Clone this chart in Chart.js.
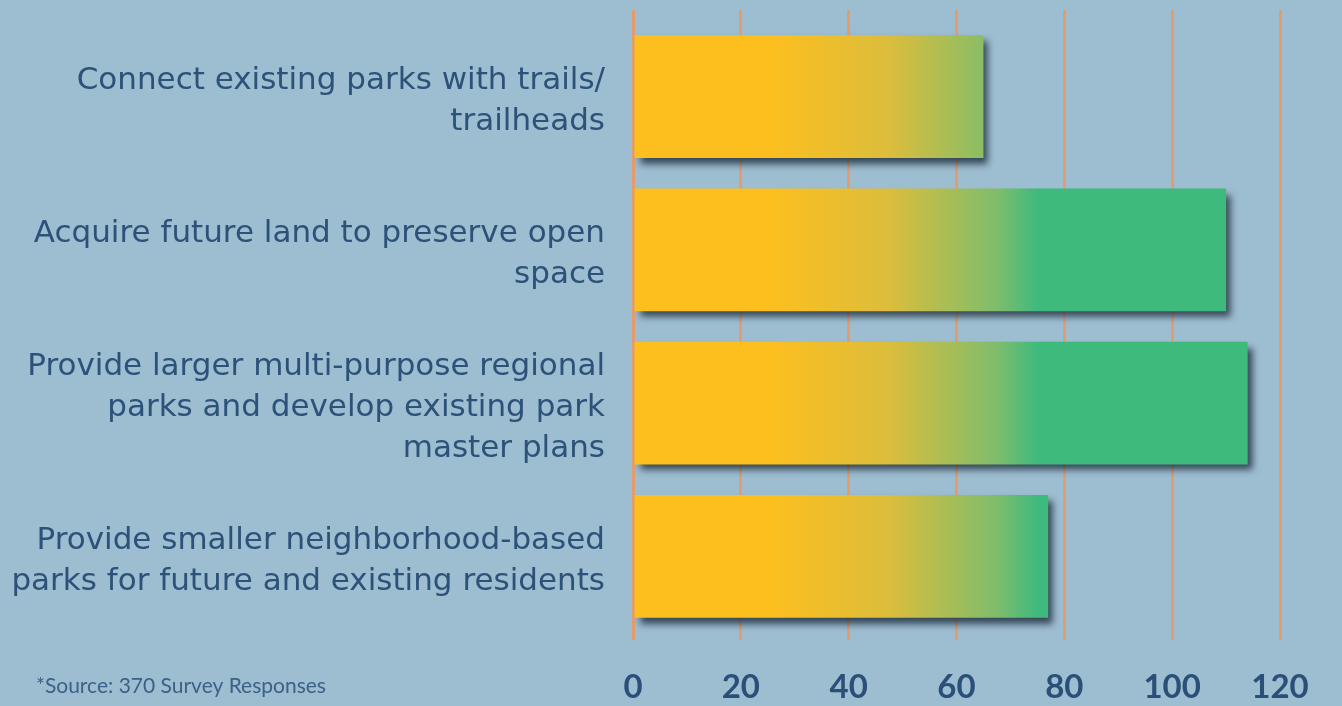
<!DOCTYPE html>
<html>
<head>
<meta charset="utf-8">
<script src="https://cdn.jsdelivr.net/npm/chart.js@4.4.0/dist/chart.umd.min.js"></script>
<style>
  html, body { margin: 0; padding: 0; background: #9dbdd0; }
  #wrap { width: 1342px; height: 706px; }
</style>
</head>
<body>
<div id="wrap"><canvas id="chart-priorities"></canvas></div>
<script>
// categories (multi-line labels as in the picture)
const priorities = [
  ['Connect existing parks with trails/', 'trailheads'],
  ['Acquire future land to preserve open', 'space'],
  ['Provide larger multi-purpose regional', 'parks and develop existing park', 'master plans'],
  ['Provide smaller neighborhood-based', 'parks for future and existing residents']
];
const responses = [65, 110, 114, 77];
const xTicks = [0, 20, 40, 60, 80, 100, 120];
const sourceNote = '*Source: 370 Survey Responses';

const navy = '#2a4f78';
const gridOrange = '#e59c6c';

// bar fill: yellow on the left turning green towards the right, same for every bar
function barGradient(context) {
  const chart = context.chart;
  const x = chart.scales.x;
  if (!chart.chartArea || !x) return '#fdbf1e';
  const x0 = x.getPixelForValue(25);
  const x1 = x.getPixelForValue(75);
  if (!isFinite(x0) || !isFinite(x1)) return '#fdbf1e';
  const g = chart.ctx.createLinearGradient(x0, 0, x1, 0);
  g.addColorStop(0, '#fdbf1e');
  g.addColorStop(0.45, '#dcbd3c');
  g.addColorStop(0.85, '#7fbd6c');
  g.addColorStop(1, '#3fba7d');
  return g;
}

// drop shadow under the bars
const barShadow = {
  id: 'barShadow',
  beforeDatasetsDraw(chart) {
    const ctx = chart.ctx;
    ctx.save();
    ctx.shadowColor = 'rgba(25, 40, 55, 0.8)';
    ctx.shadowBlur = 7;
    ctx.shadowOffsetX = 5;
    ctx.shadowOffsetY = 6;
  },
  afterDatasetsDraw(chart) {
    chart.ctx.restore();
  }
};

// footnote in the lower left
const footnote = {
  id: 'footnote',
  afterDraw(chart) {
    const ctx = chart.ctx;
    ctx.save();
    ctx.font = '21px Lato, sans-serif';
    ctx.fillStyle = '#3c6188';
    ctx.textAlign = 'left';
    ctx.textBaseline = 'middle';
    ctx.fillText(sourceNote, 36, 686);
    ctx.restore();
  }
};

const setTicks = scale => { scale.ticks = xTicks.map(v => ({ value: v })); };

const ctx = document.getElementById('chart-priorities').getContext('2d');
const chartPriorities = new Chart(ctx, {
  type: 'bar',
  data: {
    labels: priorities,
    datasets: [{
      label: 'Responses',
      data: responses,
      backgroundColor: barGradient,
      borderWidth: 0,
      barPercentage: 0.8,
      categoryPercentage: 1
    }]
  },
  options: {
    responsive: true,
    maintainAspectRatio: false,
    animation: false,
    indexAxis: 'y',
    layout: {
      padding: { top: 10, right: 62, bottom: 0, left: 0 }
    },
    scales: {
      x: {
        min: 0,
        max: 120,
        afterBuildTicks: setTicks,
        afterFit: scale => { scale.height = 73; scale.paddingLeft = 0; scale.paddingRight = 0; },
        border: { display: false },
        grid: {
          color: gridOrange,
          lineWidth: 3,
          drawTicks: true,
          tickLength: 7
        },
        ticks: {
          color: navy,
          padding: 28,
          font: { family: 'Lato, sans-serif', size: 33, weight: 'bold' }
        }
      },
      // only there so the grid lines poke out above the bars
      xTop: {
        position: 'top',
        min: 0,
        max: 120,
        afterBuildTicks: setTicks,
        afterFit: scale => { scale.height = 10; scale.paddingLeft = 0; scale.paddingRight = 0; },
        border: { display: false },
        grid: {
          color: gridOrange,
          lineWidth: 3,
          drawOnChartArea: false,
          drawTicks: true,
          tickLength: 10
        },
        ticks: { display: false }
      },
      y: {
        afterFit: scale => { scale.width = 633; scale.paddingTop = 0; scale.paddingBottom = 0; },
        border: { display: false },
        grid: { display: false },
        ticks: {
          color: '#2c5279',
          padding: 20,
          labelOffset: 5,
          font: { family: '"DejaVu Sans", sans-serif', size: 31, lineHeight: 1.32 }
        }
      }
    },
    plugins: {
      legend: { display: false },
      tooltip: { enabled: false }
    }
  },
  plugins: [barShadow, footnote]
});
</script>
</body>
</html>
